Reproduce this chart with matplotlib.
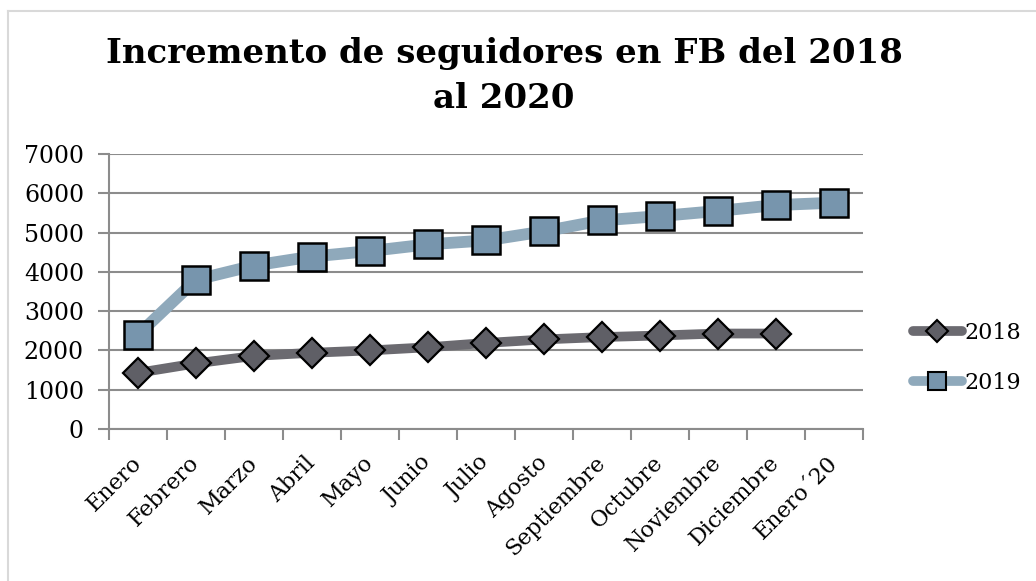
import matplotlib
matplotlib.use("Agg")
import matplotlib.pyplot as plt
from matplotlib.lines import Line2D
import numpy as np

# data
meses = ['Enero', 'Febrero', 'Marzo', 'Abril', 'Mayo', 'Junio', 'Julio',
         'Agosto', 'Septiembre', 'Octubre', 'Noviembre', 'Diciembre', 'Enero´20']
seg_2018 = [1430, 1670, 1860, 1940, 2000, 2080, 2190, 2280, 2340, 2380, 2430, 2430]
seg_2019 = [2400, 3800, 4160, 4390, 4530, 4700, 4800, 5030, 5310, 5420, 5550, 5700, 5760]
y_ticks = [0, 1000, 2000, 3000, 4000, 5000, 6000, 7000]

plt.rcParams['font.family'] = ['DejaVu Serif']

fig = plt.figure(figsize=(10.36, 5.81), dpi=100)
ax = fig.add_axes([109 / 1036, 1 - 429 / 581, (863 - 109) / 1036, (429 - 154) / 581])

x = np.arange(len(meses))
ax.plot(x[:len(seg_2018)], seg_2018, color='#6b6a70', lw=7, marker='D', ms=15,
        mfc='#5f5f66', mec='black', mew=1.6, solid_capstyle='round', zorder=3, label='2018')
ax.plot(x, seg_2019, color='#8fa9bb', lw=8.5, marker='s', ms=20,
        mfc='#7795ad', mec='black', mew=1.8, solid_capstyle='round', zorder=3, label='2019')

ax.set_xlim(-0.5, len(meses) - 0.5)
ax.set_ylim(0, 7000)
ax.set_yticks(y_ticks)
ax.set_yticklabels([str(v) for v in y_ticks], fontsize=17)
ax.yaxis.grid(True, color='#8c8c8c', lw=1.5)
ax.set_axisbelow(True)

ax.set_xticks(np.arange(-0.5, len(meses), 1.0))
ax.set_xticklabels([])
ax.set_xticks(x, minor=True)
ax.set_xticklabels(meses, minor=True, rotation=45, ha='right', va='center',
                   rotation_mode='anchor', fontsize=16)
ax.tick_params(axis='x', which='minor', length=0, pad=22)
ax.tick_params(axis='x', which='major', length=8, width=1.5, color='#8c8c8c')
ax.tick_params(axis='y', length=8, width=1.5, color='#8c8c8c', pad=10)

for s in ['top', 'right']:
    ax.spines[s].set_visible(False)
for s in ['left', 'bottom']:
    ax.spines[s].set_color('#8c8c8c')
    ax.spines[s].set_linewidth(1.5)

fig.text(504 / 1036, 1 - 76 / 581, 'Incremento de seguidores en FB del 2018\nal 2020',
         ha='center', va='center', fontsize=24.5, fontweight='bold', linespacing=1.48)

handles = [
    Line2D([], [], color='#6b6a70', lw=7, marker='D', ms=11, mfc='#5f5f66',
           mec='black', mew=1.5, solid_capstyle='round'),
    Line2D([], [], color='#8fa9bb', lw=7, marker='s', ms=13, mfc='#7795ad',
           mec='black', mew=1.5, solid_capstyle='round'),
]
fig.legend(handles, ['2018', '2019'], loc='center left', bbox_to_anchor=(893 / 1036, 1 - 358 / 581),
           frameon=False, fontsize=16, handlelength=2.2, handletextpad=0.1, labelspacing=1.25)

# light border of the chart area
fig.add_artist(Line2D([8 / 1036, 1], [1 - 11 / 581, 1 - 11 / 581], color='#d9d9d9', lw=1.5))
fig.add_artist(Line2D([8 / 1036, 8 / 1036], [0, 1 - 11 / 581], color='#d9d9d9', lw=1.5))

fig.savefig('out.png', dpi=100)
